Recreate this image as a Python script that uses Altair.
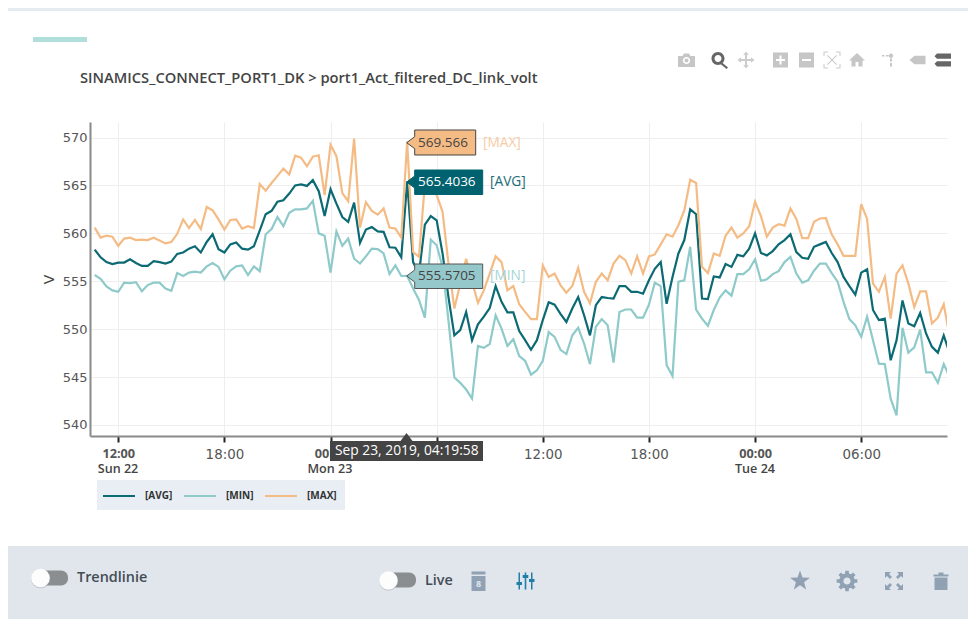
import math
import altair as alt
import pandas as pd

avg = [558.3,557.5,557.0,556.8,556.95,556.95,557.3,556.9,556.6,556.6,557.1,557.0,556.85,557.05,557.85,558.0,558.4,558.65,558.0,559.1,
       559.9,558.35,558.0,558.85,559.05,558.4,558.3,558.65,560.3,562.0,562.35,563.3,563.45,564.15,565.0,565.1,564.95,565.55,564.4,561.8,
       564.6,563.1,561.7,561.2,563.2,559.0,560.4,560.65,560.2,560.15,558.55,558.5,557.5,565.4036,557.0,555.8,560.9,561.8,561.35,557.9,
       553.35,549.35,549.9,551.8,548.85,550.5,551.3,552.2,554.5,552.85,551.75,551.75,549.8,548.85,547.85,548.85,550.95,552.8,552.55,551.6,
       550.75,552.15,553.35,551.45,549.35,552.5,553.35,553.25,553.2,554.5,554.5,553.9,553.9,553.7,555.1,556.3,557.0,552.65,555.45,557.9,
       559.3,562.5,562.0,553.2,553.15,555.5,555.4,556.8,556.5,557.75,557.6,558.4,560.0,557.95,557.7,558.15,558.85,559.3,559.9,558.05,
       557.45,557.35,558.6,558.85,559.1,557.95,557.0,555.45,554.5,553.6,555.9,556.25,552.0,550.95,551.1,546.75,548.85,553.0,550.6,550.3,
       551.7,549.55,548.15,547.55,549.35,547.5]
vmin = [555.65,555.25,554.45,554.05,553.9,554.85,554.8,554.9,553.95,554.6,554.85,554.85,554.25,554.0,555.85,555.55,555.9,556.0,555.9,556.55,
        556.9,556.5,555.2,556.1,556.55,556.65,555.65,556.55,556.05,559.9,560.45,561.7,560.75,562.15,562.5,562.5,562.6,563.4,560.0,559.75,
        555.9,560.2,558.7,559.45,557.35,556.85,557.6,558.4,558.35,557.9,555.75,556.65,555.55,555.5705,554.25,553.05,551.2,559.35,558.75,556.5,
        550.9,544.95,544.4,543.7,542.75,548.25,548.05,548.45,551.45,550.05,548.25,548.95,547.2,546.7,545.25,545.7,546.7,549.7,549.2,547.85,
        547.4,549.35,550.15,548.5,546.35,550.25,551.05,550.4,546.5,551.8,552.05,552.05,551.2,551.2,552.55,554.85,554.5,546.25,545.1,554.95,
        555.1,558.6,552.05,551.1,550.35,552.0,553.3,554.05,553.5,555.75,555.75,556.25,557.3,555.05,555.2,555.75,556.05,557.0,557.55,555.8,
        554.85,555.1,556.1,556.85,556.85,555.85,554.95,552.85,551.05,550.4,549.2,551.3,548.85,546.4,546.35,542.75,541.0,550.15,547.55,548.1,
        549.95,545.5,545.5,544.4,546.35,545.0]
vmax = [560.6,559.55,559.75,559.65,558.7,559.45,559.55,559.3,559.35,559.3,559.55,559.25,558.95,559.1,559.95,561.45,560.55,561.4,560.45,562.75,
        562.4,561.45,560.4,561.4,561.45,560.5,560.75,560.55,565.15,564.45,565.25,566.0,566.75,566.15,568.1,567.9,567.0,568.0,568.15,564.0,
        569.25,568.05,564.2,563.35,569.9,560.6,563.25,562.35,561.95,562.6,560.6,560.5,559.55,569.566,558.05,557.55,565.2,565.4,564.0,562.25,
        556.85,552.15,554.75,557.35,554.95,552.75,554.05,555.8,557.6,557.0,554.05,554.5,552.6,551.8,551.05,551.05,556.65,555.45,555.8,554.6,
        553.8,554.5,556.4,553.9,552.7,554.95,555.8,555.1,556.85,557.65,557.2,555.8,557.6,555.8,557.6,557.8,558.85,559.9,559.65,560.85,
        562.4,565.6,565.25,556.5,555.85,557.9,557.65,559.75,560.6,559.55,560.0,560.75,563.3,561.8,559.65,560.6,560.95,560.8,562.6,561.5,
        559.5,559.5,561.2,561.55,561.6,559.9,558.85,557.65,557.65,557.65,563.05,561.5,554.75,553.9,555.45,551.1,555.8,556.65,554.75,552.3,
        553.95,553.95,550.6,551.2,552.6,549.2]
series_names = ["[AVG]", "[MIN]", "[MAX]"]
series_colors = ["#0b6a73", "#8fcaca", "#f5bb84"]
times = pd.date_range("2019-09-22T10:39:58", periods=len(avg), freq="20min")
tick_times = [(22, 12), (22, 18), (23, 0), (23, 6), (23, 12), (23, 18), (24, 0), (24, 6)]

df = pd.concat([
    pd.DataFrame({"t": times.strftime("%Y-%m-%dT%H:%M:%S"), "v": vals, "s": name})
    for vals, name in zip([avg, vmin, vmax], series_names)
])

PX, PY = 90, 122            # page position of the plot area
W, H = 857, 314
RIGHT = 968                 # the page keeps an 8px margin, so the drawing ends here
one = alt.Data(values=[{"k": 0}])


def rect(x0, y0, x1, y1, fill, **kw):
    return alt.Chart(one).mark_rect(fill=fill, **kw).encode(
        x=alt.value(x0 - PX), x2=alt.value(x1 - PX), y=alt.value(y0 - PY), y2=alt.value(y1 - PY))


def text(x, y, s, size=13, color="#444444", font="Open Sans", weight="normal", align="left"):
    return alt.Chart(one).mark_text(text=s, fontSize=size, color=color, font=font, fontWeight=weight,
                                    align=align, baseline="middle").encode(
        x=alt.value(x - PX), y=alt.value(y - PY))


def icon(x, y, path, fill, **kw):
    return alt.Chart(one).mark_point(shape=path, size=4, filled=True, fill=fill, opacity=1, **kw).encode(
        x=alt.value(x - PX), y=alt.value(y - PY))


def dot(x, y, r, fill, opacity=1.0):
    return alt.Chart(one).mark_circle(size=math.pi * r * r, color=fill, opacity=opacity).encode(
        x=alt.value(x - PX), y=alt.value(y - PY))


def circ(r, ccw=False):
    s = 0 if ccw else 1
    return f"M0,{-r} A{r},{r} 0 1 {s} 0,{r} A{r},{r} 0 1 {s} 0,{-r} Z "


def star(R, r):
    pts = []
    for i in range(10):
        a = -math.pi / 2 + i * math.pi / 5
        q = R if i % 2 == 0 else r
        pts.append(f"{q * math.cos(a):.2f},{q * math.sin(a):.2f}")
    return "M" + " L".join(pts) + " Z"


def gear(R, r, hole, n=8):
    pts = []
    for i in range(n):
        c = 2 * math.pi * i / n
        for q, d in [(r, -0.24), (R, -0.17), (R, 0.17), (r, 0.24)]:
            a = c + d
            pts.append(f"{q * math.cos(a):.2f},{q * math.sin(a):.2f}")
    return "M" + " L".join(pts) + " Z " + circ(hole, True)


GL = "#c6c6c6"
GD = "#666666"
FI = "#8fa1b3"
camera = "M-8.5,-4.5 H-4 L-2.5,-7 H2.5 L4,-4.5 H8.5 V6.5 H-8.5 Z " + circ(3.6, True) + circ(2)
magnify = "M-2,-7.5 A6.5,6.5 0 1 1 -2,5.5 A6.5,6.5 0 1 1 -2,-7.5 Z M-2,-4.5 A3.5,3.5 0 1 0 -2,2.5 A3.5,3.5 0 1 0 -2,-4.5 Z M2,3 L8,8 L6.5,9.5 L0.5,4.5 Z"
move = ("M-1,-5 H-2.8 L0,-8.5 L2.8,-5 H1 V-1 H5 V-2.8 L8.5,0 L5,2.8 V1 H1 V5 H2.8 L0,8.5 L-2.8,5 H-1 V1 H-5 V2.8 L-8.5,0 L-5,-2.8 V-1 H-1 Z")
plusbox = "M-7.5,-7.5 H7.5 V7.5 H-7.5 Z M-1,-4.5 V-1 H-4.5 V1 H-1 V4.5 H1 V1 H4.5 V-1 H1 V-4.5 Z"
minusbox = "M-7.5,-7.5 H7.5 V7.5 H-7.5 Z M-4.5,-1 V1 H4.5 V-1 Z"
autoscale = ("M-8.5,-8.5 H-4 V-7.5 H-7.5 V-4 H-8.5 Z M8.5,-8.5 V-4 H7.5 V-7.5 H4 V-8.5 Z M8.5,8.5 H4 V7.5 H7.5 V4 H8.5 Z "
             "M-8.5,8.5 V4 H-7.5 V7.5 H-4 V8.5 Z M-5,-4.2 L-4.2,-5 L0,-0.8 L4.2,-5 L5,-4.2 L0.8,0 L5,4.2 L4.2,5 L0,0.8 L-4.2,5 L-5,4.2 L-0.8,0 Z")
home = "M0,-7 L8,0.5 H5.5 V6.5 H1.5 V2 H-1.5 V6.5 H-5.5 V0.5 H-8 Z"
spike = "M2,-6.5 A2.2,2.2 0 1 1 2,-2.1 A2.2,2.2 0 1 1 2,-6.5 Z M1,-1.5 H3 V1.5 H1 Z M1,3 H3 V6.5 H1 Z M-7,-5 H-4.5 V-3.5 H-7 Z M-3,-5 H-0.5 V-3.5 H-3 Z"
tag = "M-8,0 L-3,-4.2 H8 V4.2 H-3 Z"
compare = "M-6,-6.5 H8 V-1.2 H-6 L-8.5,-3.8 Z M-6,1.2 H8 V6.5 H-6 L-8.5,3.8 Z"
trash = "M-7.5,-6.5 H-2.5 V-8.5 H2.5 V-6.5 H7.5 V-4.5 H-7.5 Z M-6.5,-3.5 H6.5 V9 H-6.5 Z"
expand = ("M-9,-9 H-3 L-5,-7 L-2,-4 L-4,-2 L-7,-5 L-9,-3 Z M9,-9 V-3 L7,-5 L4,-2 L2,-4 L5,-7 L3,-9 Z "
          "M9,9 H3 L5,7 L2,4 L4,2 L7,5 L9,3 Z M-9,9 V3 L-7,5 L-4,2 L-2,4 L-5,7 L-3,9 Z")
sliders = ("M-7,-8.5 H-5.5 V1 H-3.5 V4 H-5.5 V8.5 H-7 V4 H-9 V1 H-7 Z "
           "M-0.8,-8.5 H0.8 V-6 H2.8 V-3 H0.8 V8.5 H-0.8 V-3 H-2.8 V-6 H-0.8 Z "
           "M5.5,-8.5 H7 V-2 H9 V1 H7 V8.5 H5.5 V1 H3.5 V-2 H5.5 Z")
calendar = "M-7,-9.5 H7 V-6.5 H-7 Z M-7,-5 H7 V10 H-7 Z"
max_box = "M0,0 L8,-6 V-12.7 H69 V12.3 H8 V6 Z"
wide_box = "M0,0 L8,-6 V-12 H76 V12.5 H8 V6 Z"
tip_up = "M0,-8 L6,0 H-6 Z"

chrome = [
    rect(8, 8, RIGHT, 11, "#e6ebf0"),
    rect(8, 546, RIGHT, 619, "#e0e6ec"),
    rect(33, 37, 87, 42, "#b0dedb"),
    rect(97, 480, 345, 510, "#e8eef3"),
]

special = "hours(datum.value)==0 || (hours(datum.value)==12 && date(datum.value)==22)"
x_enc = alt.X("t:T", title=None,
              scale=alt.Scale(domain=["2019-09-22T10:24:04", "2019-09-24T10:51:00"]),
              axis=alt.Axis(values=[alt.DateTime(year=2019, month=9, date=d, hours=h) for d, h in tick_times],
                            format="%H:%M",
                            grid=True, gridColor="#eeeeee", gridWidth=1,
                            domainColor="#8a8a8a", domainWidth=2,
                            tickColor="#222222", tickWidth=2, tickSize=6,
                            labelColor="#555555", labelPadding=5, labelFlush=False, labelOverlap=False,
                            labelFont={"condition": {"test": special, "value": "Open Sans"}, "value": "DejaVu Sans"},
                            labelFontWeight={"condition": {"test": special, "value": "bold"}, "value": "normal"},
                            labelFontSize={"condition": {"test": special, "value": 12.7}, "value": 13.4}))
y_enc = alt.Y("v:Q", title="V",
              scale=alt.Scale(domain=[538.85, 571.62], nice=False, zero=False),
              axis=alt.Axis(values=[540, 545, 550, 555, 560, 565, 570], ticks=False,
                            grid=True, gridColor="#eeeeee", gridWidth=1,
                            domainColor="#8a8a8a", domainWidth=2,
                            labelColor="#555555", labelFont="DejaVu Sans", labelFontSize=13, labelPadding=3,
                            titleFont="DejaVu Sans", titleFontSize=14, titleColor="#444444",
                            titleFontWeight="normal", titlePadding=6))
color_enc = alt.Color("s:N", sort=series_names,
                      scale=alt.Scale(domain=series_names, range=series_colors),
                      legend=alt.Legend(title=None, orient="none", direction="horizontal", columns=3,
                                        legendX=97 - PX + 1, legendY=475 - PY, padding=4,
                                        symbolType="stroke", symbolSize=1024, symbolStrokeWidth=2,
                                        labelFont="Open Sans", labelFontWeight="bold", labelFontSize=10,
                                        labelColor="#333333", columnPadding=7, labelOffset=9))

lines = alt.Chart(alt.Data(values=df.to_dict("records"))).mark_line(strokeWidth=2.2, clip=True, interpolate="linear").encode(
    x=x_enc, y=y_enc, color=color_enc)

overlay = [
    # header
    text(80, 78.5, "SINAMICS_CONNECT_PORT1_DK > port1_Act_filtered_DC_link_volt", size=14.7, color="#444444", weight=600),
    icon(686.5, 60.5, camera, GL),
    icon(720, 59.5, magnify, GD),
    icon(746, 60, move, "#cccccc"),
    icon(780.5, 60, plusbox, GL),
    icon(806.5, 60, minusbox, GL),
    icon(832, 60, autoscale, "#cccccc"),
    icon(857, 60, home, GL),
    icon(889, 60, spike, GL),
    icon(917.5, 60, tag, GL),
    icon(943, 60, compare, GD),
    # second row of the time axis
    text(118, 469, "Sun 22", size=12.6, weight=600, align="center"),
    text(330, 469, "Mon 23", size=12.6, weight=600, align="center"),
    text(755, 469, "Tue 24", size=12.6, weight=600, align="center"),
    # hover labels
    icon(406.7, 142.7, max_box, "#f5bb84", stroke="#444444", strokeWidth=1),
    text(418, 142.5, "569.566", size=13.5, color="#444444"),
    text(483, 142.5, "[MAX]", size=13.7, color="#f7cba4"),
    icon(406.7, 182, wide_box, "#00626e", stroke="#00626e", strokeWidth=1),
    text(418, 182, "565.4036", size=13.5, color="#ffffff"),
    text(490, 182, "[AVG]", size=13.7, color="#1a6c76"),
    icon(406.7, 276, wide_box, "#95c8ca", stroke="#555555", strokeWidth=1),
    text(418, 276, "555.5705", size=13.5, color="#444444"),
    text(490, 276, "[MIN]", size=13.7, color="#a5d5d5"),
    # date tooltip on the axis
    icon(406.5, 441, tip_up, "#444444"),
    rect(330, 441, 483, 461, "#444444"),
    text(335, 451, "Sep 23, 2019, 04:19:58", size=13.8, color="#ffffff"),
    # footer
    rect(40, 570.5, 68, 585.5, "#8a8e90", cornerRadius=7),
    dot(40.5, 579, 10.5, "#9aa0a6", 0.45),
    dot(40.5, 578, 10.5, "#fdfdfd"),
    text(77, 578, "Trendlinie", size=14.4, color="#444c54", weight=600),
    rect(388, 572.5, 416, 587.5, "#8a8e90", cornerRadius=7),
    dot(388.5, 581.5, 10.5, "#9aa0a6", 0.45),
    dot(388.5, 580.5, 10.5, "#fdfdfd"),
    text(425, 580.5, "Live", size=14.4, color="#444c54", weight=600),
    icon(478.5, 581, calendar, FI),
    text(478.5, 584, "8", size=9, color="#e0e6ec", weight="bold", align="center"),
    icon(525.5, 581, sliders, "#1f7fa8"),
    icon(800, 581, star(10.5, 4.3), FI),
    icon(847, 581, gear(10.5, 7.8, 3.6), FI),
    icon(894, 581, expand, FI),
    icon(941, 581, trash, FI),
]

chart = alt.layer(*chrome, lines, *overlay).properties(
    width=W, height=H,
    autosize=alt.AutoSizeParams(type="none"),
    padding={"left": PX - 8, "top": PY - 8, "right": RIGHT - 8 - (PX - 8) - W, "bottom": 611 - (PY - 8) - H},
    background="#ffffff",
).configure_view(stroke=None)

chart.save("out.html", embed_options={"renderer": "svg", "actions": False})
